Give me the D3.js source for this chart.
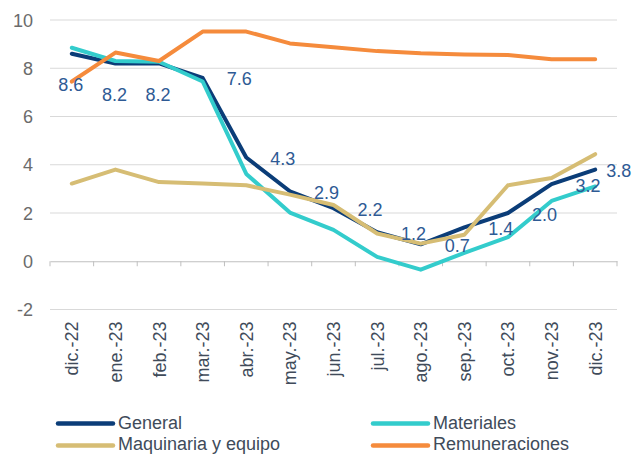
<!DOCTYPE html>
<html>
<head>
<meta charset="utf-8">
<script src="https://cdn.jsdelivr.net/npm/d3@7"></script>
<style>
  body { margin: 0; background: #fff; }
  text { font-family: "Liberation Sans", Arial, sans-serif; }
</style>
</head>
<body>
<svg width="641" height="455"></svg>
<script>
var months = ["dic.-22", "ene.-23", "feb.-23", "mar.-23", "abr.-23", "may.-23", "jun.-23",
  "jul.-23", "ago.-23", "sep.-23", "oct.-23", "nov.-23", "dic.-23"];
var general = [8.6, 8.2, 8.2, 7.6, 4.3, 2.9, 2.2, 1.2, 0.7, 1.4, 2.0, 3.2, 3.8];
var materiales = [8.85, 8.3, 8.27, 7.45, 3.62, 2.02, 1.3, 0.18, -0.35, 0.35, 1.0, 2.5, 3.1];
var maquinaria = [3.22, 3.8, 3.28, 3.22, 3.15, 2.76, 2.33, 1.15, 0.73, 1.1, 3.15, 3.45, 4.44];
var remuneraciones = [7.45, 8.65, 8.3, 9.52, 9.52, 9.03, 8.87, 8.71, 8.62, 8.57, 8.55, 8.37, 8.37];
var yTicks = [-2, 0, 2, 4, 6, 8, 10];
// where each General label sits
var labelPos = ["below", "below", "below", "right", "right", "right", "right",
  "right", "right", "right", "right", "right", "near"];

var svg = d3.select("svg");

var x = d3.scaleBand().domain(months).range([50, 617]);
var y = d3.scaleLinear().domain([-2, 10]).range([309.5, 20]);
var cx = function (m) { return x(m) + x.bandwidth() / 2; };

// gridlines
svg.append("g").selectAll("line")
  .data(yTicks.filter(d => d != 0))
  .enter().append("line")
  .attr("x1", 50).attr("x2", 617)
  .attr("y1", d => y(d)).attr("y2", d => y(d))
  .attr("stroke", "#d9d9d9").attr("stroke-width", 1);

// y labels
svg.append("g").selectAll("text")
  .data(yTicks)
  .enter().append("text")
  .attr("x", 33).attr("y", d => y(d) + 6.5)
  .attr("text-anchor", "end")
  .attr("font-size", 18).attr("fill", "#6b6b6b")
  .text(d => d);

// x axis at zero
var xAxis = svg.append("g")
  .attr("transform", "translate(0," + y(0) + ")")
  .call(d3.axisBottom(x).tickSize(0).tickFormat(""));
xAxis.select(".domain").attr("stroke", "#bfbfbf");
xAxis.selectAll(".tick").remove();
xAxis.selectAll(".bt").data(months.concat(["end"]))
  .enter().append("line")
  .attr("x1", (d, i) => 50 + i * x.step()).attr("x2", (d, i) => 50 + i * x.step())
  .attr("y1", 0).attr("y2", 5)
  .attr("stroke", "#bfbfbf");

svg.append("g").selectAll("text")
  .data(months)
  .enter().append("text")
  .attr("transform", d => "translate(" + (cx(d) + 6.5) + ",321.5) rotate(-90)")
  .attr("text-anchor", "end")
  .attr("font-size", 18).attr("fill", "#404b5a")
  .text(d => d);

var series = [
  { name: "General", values: general, color: "#0b3d78" },
  { name: "Materiales", values: materiales, color: "#33cccc" },
  { name: "Maquinaria y equipo", values: maquinaria, color: "#d6bd74" },
  { name: "Remuneraciones", values: remuneraciones, color: "#f58b3c" }
];

var line = d3.line()
  .x((d, i) => cx(months[i]))
  .y(d => y(d));

svg.append("g").selectAll("path")
  .data(series)
  .enter().append("path")
  .attr("d", d => line(d.values))
  .attr("fill", "none")
  .attr("stroke", d => d.color)
  .attr("stroke-width", 4)
  .attr("stroke-linejoin", "round")
  .attr("stroke-linecap", "round");

// data labels for General
svg.append("g").selectAll("text")
  .data(general)
  .enter().append("text")
  .attr("x", (d, i) => {
    var p = labelPos[i];
    if (p == "below") return cx(months[i]) - 1;
    if (p == "near") return cx(months[i]) + 11;
    return cx(months[i]) + 24;
  })
  .attr("y", (d, i) => labelPos[i] == "below" ? y(d) + 37.5 : y(d) + 7.5)
  .attr("text-anchor", (d, i) => labelPos[i] == "below" ? "middle" : "start")
  .attr("font-size", 18).attr("fill", "#2e5a94")
  .text(d => d.toFixed(1));

// legend
var legPos = [[58, 423.5], [373, 423.5], [58, 445.5], [373, 445.5]];
var leg = svg.append("g").selectAll("g")
  .data(series)
  .enter().append("g")
  .attr("transform", (d, i) => "translate(" + legPos[i][0] + "," + legPos[i][1] + ")");
leg.append("line")
  .attr("x1", 0).attr("x2", 55)
  .attr("stroke", d => d.color).attr("stroke-width", 4.5)
  .attr("stroke-linecap", "round");
leg.append("text")
  .attr("x", 60).attr("y", (d, i) => i < 2 ? 5.5 : 4.5)
  .attr("font-size", 18).attr("fill", "#404b5a")
  .text(d => d.name);
</script>
</body>
</html>
